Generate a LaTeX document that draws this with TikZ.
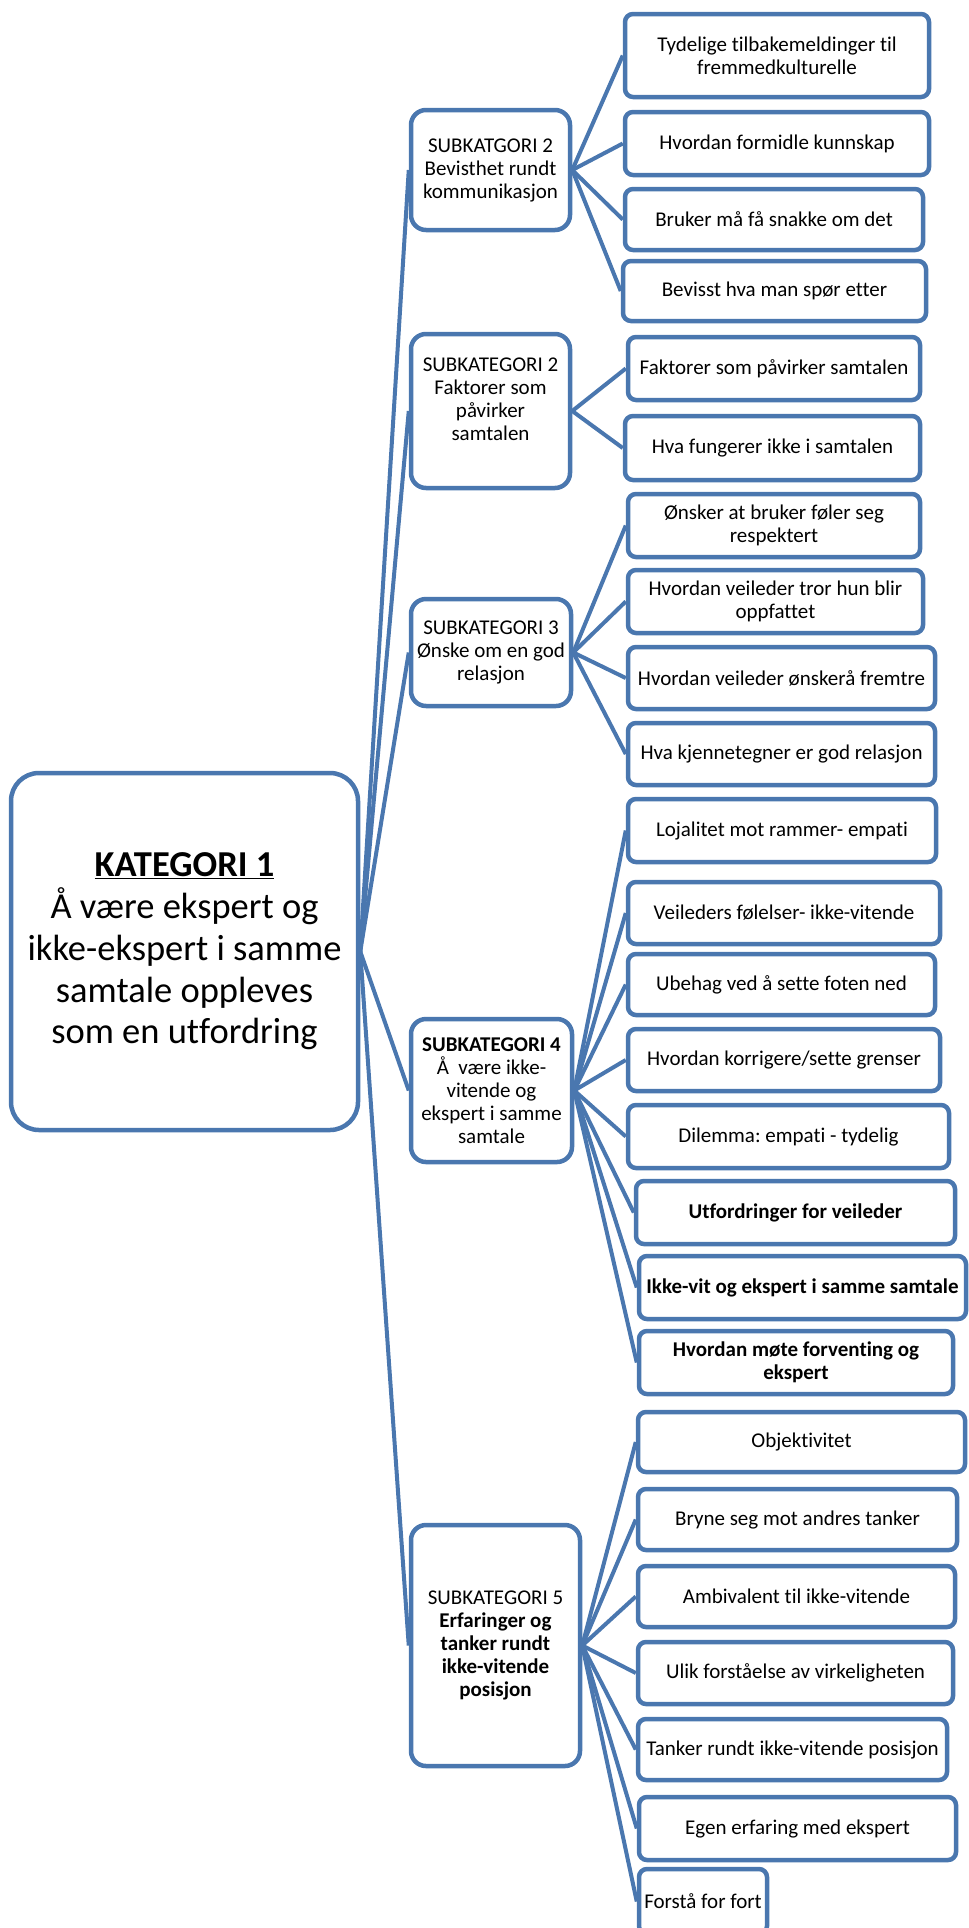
\documentclass[tikz,border=0pt]{standalone}
\usepackage{fontspec}
\setmainfont{Carlito}[Ligatures={NoCommon,NoContextual}]
\usepackage{xcolor}
\usepackage{tikz}
\definecolor{smartblue}{HTML}{4A77AF}
\newcommand{\leaffont}{\fontsize{21}{23}\selectfont}
\frenchspacing

\begin{document}
\begin{tikzpicture}[
    x=1pt,y=-1pt,
    basebox/.style={draw=smartblue,line width=4.5pt,fill=white,align=center,inner sep=2pt},
    catbox/.style={basebox,rounded corners=28pt,font=\fontsize{36.5}{41.7}\selectfont},
    subbox/.style={basebox,rounded corners=15pt,font=\leaffont},
    leafbox/.style={basebox,rounded corners=8pt,font=\leaffont},
    size/.style 2 args={minimum width=#1pt,minimum height=#2pt},
    link/.style={draw=smartblue,line width=4pt}
  ]
    \useasboundingbox (0,0) rectangle (969,1928);

    % main category
    \node[catbox,size={347}{357}] (kat) at (184.5,951.5) {\underline{\textbf{KATEGORI 1}}\\Å være ekspert og\\ikke-ekspert i samme\\samtale oppleves\\som en utfordring};

    % subcategories
    \node[subbox,size={159}{120}] (sub1) at (490.5,170) {SUBKATGORI 2\\Bevisthet rundt\\kommunikasjon};
    \node[subbox,size={159}{154}] (sub2) at (490.5,411) {SUBKATEGORI 2\\Faktorer som\\påvirker\\samtalen\\\mbox{}};
    \node[subbox,size={160}{107}] (sub3) at (491,652.5) {SUBKATEGORI 3\\Ønske om en god\\relasjon};
    \node[subbox,size={161}{143}] (sub4) at (491.5,1090.5) {\textbf{SUBKATEGORI 4}\\Å~ være ikke-\\vitende og\\ekspert i samme\\samtale};
    \node[subbox,size={169}{241}] (sub5) at (495.5,1645.5) {SUBKATEGORI 5\\\textbf{Erfaringer og}\\\textbf{tanker rundt}\\\textbf{ikke-vitende}\\\textbf{posisjon}};

    % leaves of subcategory 1
    \node[leafbox,size={304}{83}] (a1) at (777,55.5) {Tydelige tilbakemeldinger til\\fremmedkulturelle};
    \node[leafbox,size={304}{63}] (a2) at (777,143.5) {Hvordan formidle kunnskap};
    \node[leafbox,size={298}{61}] (a3) at (774,219.5) {Bruker må få snakke om det};
    \node[leafbox,size={303}{60}] (a4) at (774.5,291) {Bevisst hva man spør etter};

    % leaves of subcategory 2
    \node[leafbox,size={292}{63}] (b1) at (774,368.5) {Faktorer som påvirker samtalen};
    \node[leafbox,size={295}{64}] (b2) at (772.5,448) {Hva fungerer ikke i samtalen};

    % leaves of subcategory 3
    \node[leafbox,size={292}{63}] (c1) at (774,525.5) {Ønsker at bruker føler seg\\respektert};
    \node[leafbox,size={295}{63}] (c2) at (775.5,601.5) {Hvordan veileder tror hun blir\\oppfattet};
    \node[leafbox,size={307}{62}] (c3) at (781.5,678) {Hvordan veileder ønskerå fremtre};
    \node[leafbox,size={307}{62}] (c4) at (781.5,754) {Hva kjennetegner er god relasjon};

    % leaves of subcategory 4
    \node[leafbox,size={308}{63}] (d1) at (782,830.5) {Lojalitet mot rammer- empati};
    \node[leafbox,size={312}{62}] (d2) at (784,913) {Veileders følelser- ikke-vitende};
    \node[leafbox,size={307}{61}] (d3) at (781.5,984.5) {Ubehag ved å sette foten ned};
    \node[leafbox,size={312}{62}] (d4) at (784,1060) {Hvordan korrigere/sette grenser};
    \node[leafbox,size={321}{63}] (d5) at (788.5,1136.5) {Dilemma: empati - tydelig};
    \node[leafbox,size={319}{63}] (d6) at (795.5,1212.5) {\textbf{Utfordringer for veileder}};
    \node[leafbox,size={327}{63}] (d7) at (802.5,1287.5) {\textbf{Ikke-vit og ekspert i samme samtale}};
    \node[leafbox,size={314}{63}] (d8) at (796,1362.5) {\textbf{Hvordan møte forventing og}\\\textbf{ekspert}};

    % leaves of subcategory 5
    \node[leafbox,size={327}{60}] (e1) at (801.5,1442) {Objektivitet};
    \node[leafbox,size={319}{61}] (e2) at (797.5,1519.5) {Bryne seg mot andres tanker};
    \node[leafbox,size={317}{61}] (e3) at (796.5,1596.5) {Ambivalent til ikke-vitende};
    \node[leafbox,size={315}{62}] (e4) at (795.5,1673) {Ulik forståelse av virkeligheten};
    \node[leafbox,size={309}{61}] (e5) at (792.5,1749.5) {Tanker rundt ikke-vitende posisjon};
    \node[leafbox,size={317}{63}] (e6) at (797.5,1828.5) {Egen erfaring med ekspert};
    \node[leafbox,size={128}{65}] (e7) at (703,1901.5) {Forstå for fort};

    % connectors
    \foreach \s in {sub1,sub2,sub3,sub4,sub5}
      \draw[link] (kat.east) -- (\s.west);
    \foreach \l in {a1,a2,a3,a4}
      \draw[link] (sub1.east) -- (\l.west);
    \foreach \l in {b1,b2}
      \draw[link] (sub2.east) -- (\l.west);
    \foreach \l in {c1,c2,c3,c4}
      \draw[link] (sub3.east) -- (\l.west);
    \foreach \l in {d1,d2,d3,d4,d5,d6,d7,d8}
      \draw[link] (sub4.east) -- (\l.west);
    \foreach \l in {e1,e2,e3,e4,e5,e6,e7}
      \draw[link] (sub5.east) -- (\l.west);
  \end{tikzpicture}
\end{document}
